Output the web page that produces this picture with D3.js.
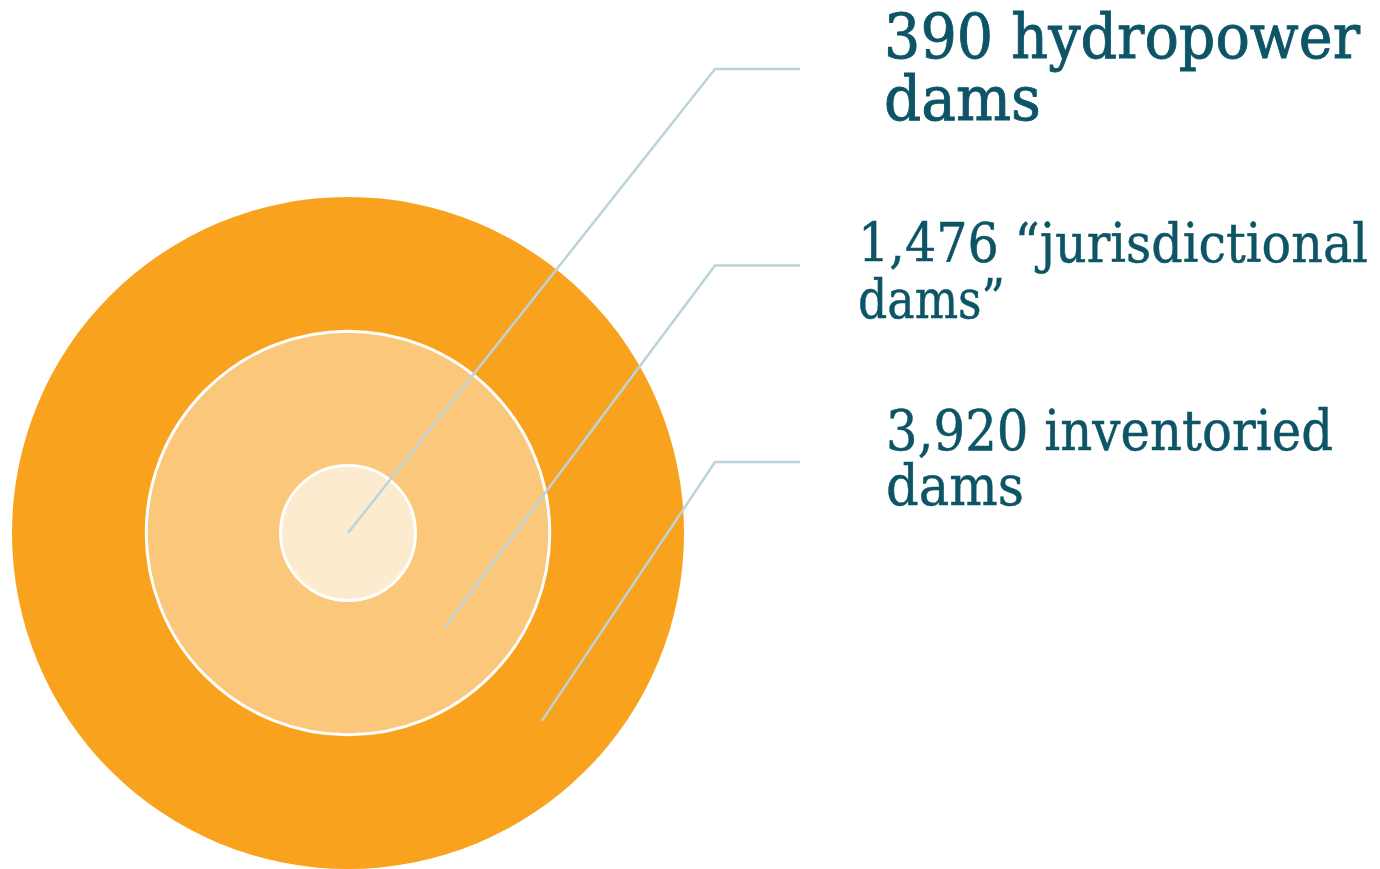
<!DOCTYPE html>
<html>
<head>
<meta charset="utf-8">
<script src="https://cdn.jsdelivr.net/npm/d3@7"></script>
<style>
  html, body { margin: 0; padding: 0; background: #fff; }
  svg { display: block; }
</style>
</head>
<body>
<svg id="chart" width="1380" height="869"></svg>
<script>
// data, innermost first
const names = ['hydropower', 'jurisdictional', 'inventoried']
const counts = [390, 1476, 3920]
const labelLines = [
  ['390 hydropower', 'dams'],
  ['1,476 \u201cjurisdictional', 'dams\u201d'],
  ['3,920 inventoried', 'dams']
]
const fills = ['#fdebd0', '#fbc77a', '#f8a21d']

const svg = d3.select('#chart')
const cx = 348, cy = 533

// rings are schematic: radius grows with rank, not with area
const rScale = d3.scaleLinear().domain([0, names.length - 1]).range([67.5, 336])

const rings = counts.map((c, i) => ({ name: names[i], count: c, i: i, r: rScale(i) }))

// draw biggest first
svg.append('g').attr('class', 'rings')
  .selectAll('circle')
  .data(rings.slice().reverse())
  .enter()
  .append('circle')
  .attr('cx', cx)
  .attr('cy', cy)
  .attr('r', d => d.r)
  .attr('fill', (d) => fills[d.i])
  .attr('stroke', d => d.i == names.length - 1 ? 'none' : '#fff')
  .attr('stroke-width', 3)

// leader lines: start point inside each ring (down-right of centre), elbow, then flat
const labelY = d3.scalePoint().domain(names.slice()).range([69, 462]).padding(0)
const startR = d3.scaleLinear().domain([0, names.length - 1]).range([0, 270])
const dirX = 0.718, dirY = 0.696

const lines = rings.map(d => {
  const sx = cx + startR(d.i) * dirX
  const sy = cy + startR(d.i) * dirY
  const ey = labelY(d.name)
  return [[sx, sy], [715, ey], [800, ey]]
})

svg.append('g').attr('class', 'leaders')
  .selectAll('path')
  .data(lines)
  .enter()
  .append('path')
  .attr('d', d3.line())
  .attr('fill', 'none')
  .attr('stroke', '#bdd3da')
  .attr('stroke-width', 2.5)

// labels
const labelX = [884, 858, 886]
const fontSize = [61, 54, 56]
const lineGap = [62, 56, 55]
const baseY = [58, 262, 450]
const lineWidths = [[476, 157], [510, 147], [447, 138]]
const strokeW = [0.9, 0.5, 0.5]

const lab = svg.append('g').attr('class', 'labels')
  .selectAll('text')
  .data(labelLines)
  .enter()
  .append('text')
  .attr('x', (d, i) => labelX[i])
  .attr('y', (d, i) => baseY[i])
  .attr('fill', '#0d5566')
  .attr('stroke', '#0d5566')
  .attr('stroke-width', (d, i) => strokeW[i])
  .style('font-family', '"DejaVu Serif", serif')
  .style('font-size', (d, i) => fontSize[i] + 'px')

lab.selectAll('tspan')
  .data((d, i) => d.map((t, j) => ({ t: t, i: i, j: j })))
  .enter()
  .append('tspan')
  .attr('x', d => labelX[d.i])
  .attr('dy', d => d.j == 0 ? 0 : lineGap[d.i])
  .attr('textLength', d => lineWidths[d.i][d.j])
  .attr('lengthAdjust', 'spacingAndGlyphs')
  .text(d => d.t)
</script>
</body>
</html>
